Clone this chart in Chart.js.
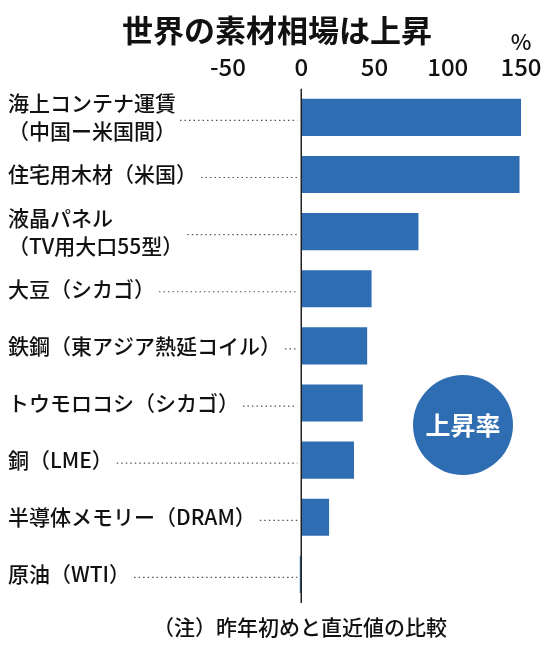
<!DOCTYPE html>
<html><head><meta charset="utf-8">
<script src="https://cdn.jsdelivr.net/npm/chart.js@4"></script>
<style>body{margin:0;background:#fff}#wrap{width:555px;height:649px}</style>
</head><body><div id="wrap"><canvas id="myChart"></canvas></div>
<script>
const categories = [
  ['海上コンテナ運賃', '（中国ー米国間）'],
  ['住宅用木材（米国）'],
  ['液晶パネル', '（TV用大口55型）'],
  ['大豆（シカゴ）'],
  ['鉄鋼（東アジア熱延コイル）'],
  ['トウモロコシ（シカゴ）'],
  ['銅（LME）'],
  ['半導体メモリー（DRAM）'],
  ['原油（WTI）']
]
const riseRates = [150, 149, 80, 48, 45, 42, 36, 19, -1]
const xTicks = [-50, 0, 50, 100, 150]

const FONT = '"Noto Sans CJK JP", "Noto Sans", sans-serif'
const BLUE = '#2f6db3'

const decor = {
  id: 'decor',
  afterDraw(chart) {
    const c = chart.ctx, y = chart.scales.y, x = chart.scales.x
    c.save()
    c.fillStyle = '#111'
    c.font = 'bold 31px ' + FONT
    c.textAlign = 'center'; c.textBaseline = 'middle'
    c.fillText('世界の素材相場は上昇', 277, 30)
    c.font = '500 22px ' + FONT
    c.fillText('%', 521, 42)
    c.strokeStyle = '#222'; c.lineWidth = 1.5
    c.beginPath(); c.moveTo(x.getPixelForValue(0), chart.chartArea.top); c.lineTo(x.getPixelForValue(0), chart.chartArea.bottom); c.stroke()
    c.font = '500 21px ' + FONT
    c.textAlign = 'left'
    categories.forEach((lines, i) => {
      const cy = y.getPixelForValue(i)
      const lh = 28
      let w = 0
      lines.forEach((t, j) => {
        c.fillStyle = '#111'
        c.fillText(t, 8, cy + (j - (lines.length - 1) / 2) * lh)
        w = Math.max(w, c.measureText(t).width)
      })
      c.strokeStyle = '#555'; c.lineWidth = 1.2
      c.setLineDash([1.5, 3])
      c.beginPath(); c.moveTo(8 + w + 4, cy + 3); c.lineTo(x.getPixelForValue(0) - 4, cy + 3); c.stroke()
      c.setLineDash([])
    })
    c.fillStyle = BLUE
    c.beginPath(); c.arc(463, 425, 50, 0, Math.PI * 2); c.fill()
    c.fillStyle = '#fff'; c.textAlign = 'center'
    c.font = 'bold 25px ' + FONT
    c.fillText('上昇率', 463, 425)
    c.fillStyle = '#111'
    c.font = '500 21px ' + FONT
    c.fillText('（注）昨年初めと直近値の比較', 300, 627)
    c.restore()
  }
}

new Chart(document.getElementById('myChart'), {
  type: 'bar',
  data: {
    labels: categories.map(l => l.join('')),
    datasets: [{ data: riseRates, backgroundColor: BLUE, barPercentage: 0.65, categoryPercentage: 1 }]
  },
  options: {
    indexAxis: 'y',
    responsive: true,
    maintainAspectRatio: false,
    animation: false,
    layout: { padding: { left: 228, right: 34, top: 52, bottom: 46 } },
    scales: {
      x: {
        position: 'top', min: -50, max: 150,
        afterBuildTicks: s => { s.ticks = xTicks.map(v => ({ value: v })) },
        grid: { display: false },
        border: { display: false },
        ticks: { color: '#111', font: { family: FONT, size: 24, weight: '500' }, padding: 0, maxRotation: 0 }
      },
      y: { display: false }
    },
    plugins: { legend: { display: false }, tooltip: { enabled: false } }
  },
  plugins: [decor]
})
</script></body></html>
